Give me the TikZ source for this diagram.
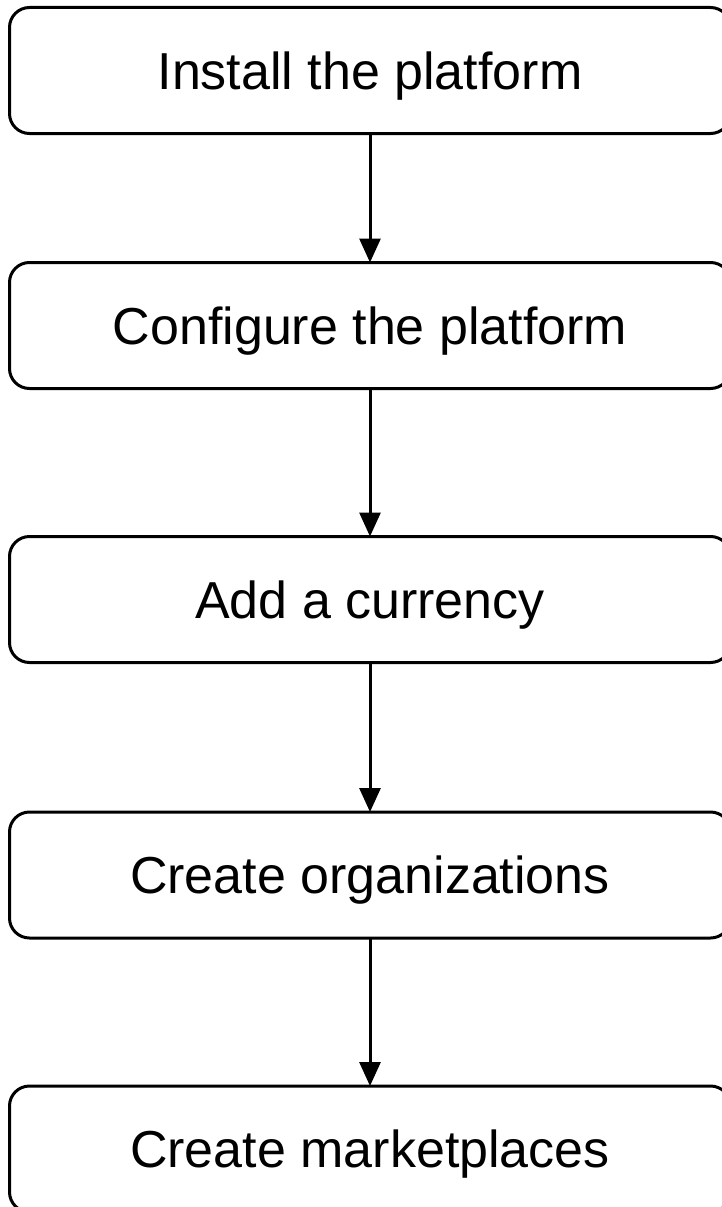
\documentclass[tikz,border=0pt]{standalone}
\usepackage{fontspec}
\setmainfont{Liberation Sans}
\usetikzlibrary{arrows.meta}
\begin{document}
\begin{tikzpicture}[x=1pt,y=-1pt,
  stepbox/.style={draw=black,line width=3pt,rounded corners=20pt,fill=white,
    minimum width=721pt,minimum height=126pt,inner sep=0pt,outer sep=0pt,
    text height=37.5pt,text depth=0pt,
    font=\fontsize{52}{60}\selectfont},
  conn/.style={line width=3pt,-{Triangle[width=21pt,length=24pt]}}]
\useasboundingbox (0,0) rectangle (722,1207);
\node[stepbox] (b1) at (370,70.5) {Install the platform};
\node[stepbox] (b2) at (370,325.5) {Configure the platform};
\node[stepbox] (b3) at (370,599.5) {Add a currency};
\node[stepbox] (b4) at (370,875) {Create organizations};
\node[stepbox] (b5) at (370,1149) {Create marketplaces};
\draw[conn] (b1) -- (b2);
\draw[conn] (b2) -- (b3);
\draw[conn] (b3) -- (b4);
\draw[conn] (b4) -- (b5);
\end{tikzpicture}
\end{document}
